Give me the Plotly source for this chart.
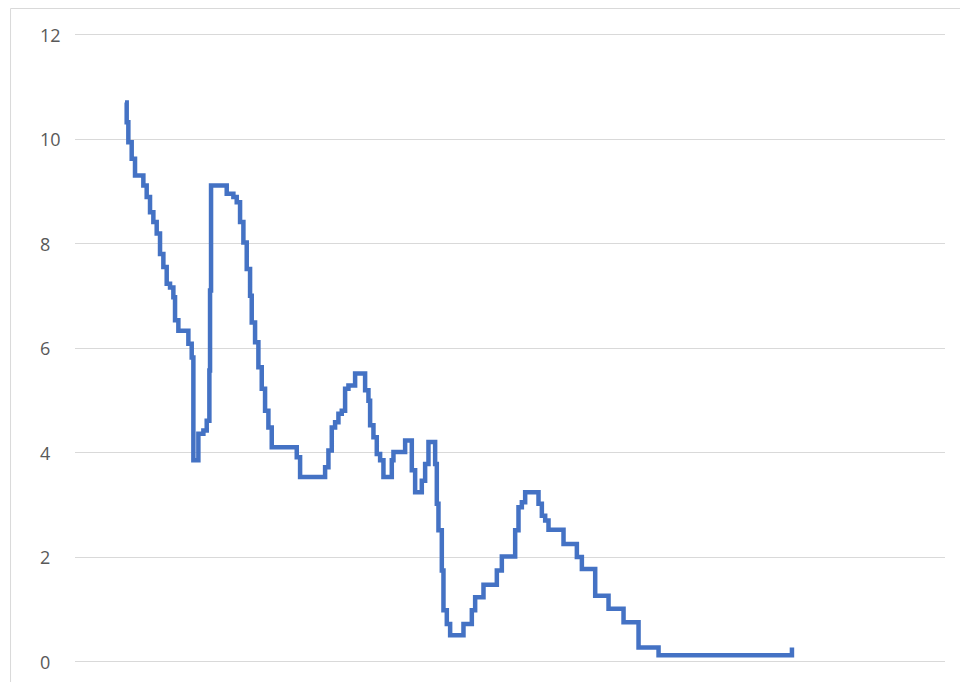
import plotly.graph_objects as go

# Step series: period index where the rate changes, and the new level
period = [0, 0.5, 1, 2, 3, 5.5, 6.5, 7.5, 8.5, 9.5, 10.5, 11.5, 12.5, 13.5, 14.5, 15, 16,
          19, 20, 20.5, 22, 23.5, 24.5, 25.3, 25.5, 25.8, 30.5, 32.5, 33.5, 34.5, 35.5,
          36.5, 37.5, 38, 39, 40, 41, 42, 43, 44, 51.5, 52.5, 60, 61, 62, 63, 64, 65, 66,
          67, 69, 72, 73, 73.5, 74.5, 75.5, 76.5, 77.5, 80, 80.5, 84, 86, 87, 89, 90, 91,
          93, 93.5, 94, 95, 95.5, 96.5, 97.5, 101.5, 104, 105, 107.5, 111.5, 113, 117,
          118, 119, 120, 124, 125, 126, 127, 131.5, 135.5, 137, 141, 145, 149.5, 154,
          160, 200]
rate = [10.70, 10.32, 9.94, 9.62, 9.30, 9.11, 8.89, 8.60, 8.41, 8.19, 7.80, 7.55, 7.23,
        7.16, 6.97, 6.53, 6.33, 6.08, 5.82, 3.85, 4.36, 4.42, 4.61, 5.57, 7.10, 9.11, 8.95,
        8.89, 8.79, 8.41, 8.02, 7.51, 7.00, 6.49, 6.11, 5.63, 5.22, 4.80, 4.48, 4.10, 3.91,
        3.53, 3.72, 4.04, 4.48, 4.58, 4.74, 4.80, 5.22, 5.28, 5.51, 5.19, 4.99, 4.52, 4.29,
        3.97, 3.85, 3.53, 3.85, 4.01, 4.23, 3.66, 3.24, 3.46, 3.78, 4.20, 3.78, 3.02, 2.51,
        1.74, 0.98, 0.72, 0.50, 0.72, 0.98, 1.23, 1.47, 1.74, 2.01, 2.51, 2.95, 3.05, 3.24,
        3.02, 2.79, 2.70, 2.52, 2.25, 2.00, 1.77, 1.26, 1.01, 0.75, 0.27, 0.12, 0.27]

y_ticks = [0, 2, 4, 6, 8, 10, 12]
y_tick_labels = ["0", "2", "4", "6", "8", "10", "12"]

fig = go.Figure()
fig.add_trace(go.Scatter(
    x=period, y=rate, mode="lines",
    line=dict(color="#4472C4", width=4.5, shape="hv"),
    hoverinfo="skip", showlegend=False,
))

for v, t in zip(y_ticks, y_tick_labels):
    fig.add_annotation(
        x=-0.0425, xref="paper", y=v, yref="y", text=t, showarrow=False,
        xanchor="left", yanchor="middle",
        font=dict(family="Open Sans", size=18, color="#595959"),
    )

# outer border (top and left edges of the cropped chart frame)
fig.add_shape(type="line", xref="paper", yref="paper",
              x0=-0.0741, x1=1.03, y0=1.0239, y1=1.0239,
              line=dict(color="#d9d9d9", width=1))
fig.add_shape(type="line", xref="paper", yref="paper",
              x0=-0.0741, x1=-0.0741, y0=-0.02, y1=1.0239,
              line=dict(color="#d9d9d9", width=1))

fig.update_layout(
    width=960, height=674,
    margin=dict(l=67, r=23, t=16, b=10),
    paper_bgcolor="white", plot_bgcolor="white",
    xaxis=dict(range=[-15, 245.9], showgrid=False, showticklabels=False,
               zeroline=False, showline=False, ticks=""),
    yaxis=dict(range=[-0.201, 12.201], tickvals=y_ticks, showticklabels=False,
               showgrid=True, gridcolor="#d9d9d9", gridwidth=1,
               zeroline=False, showline=False, ticks=""),
)

fig.write_html("out.html")
